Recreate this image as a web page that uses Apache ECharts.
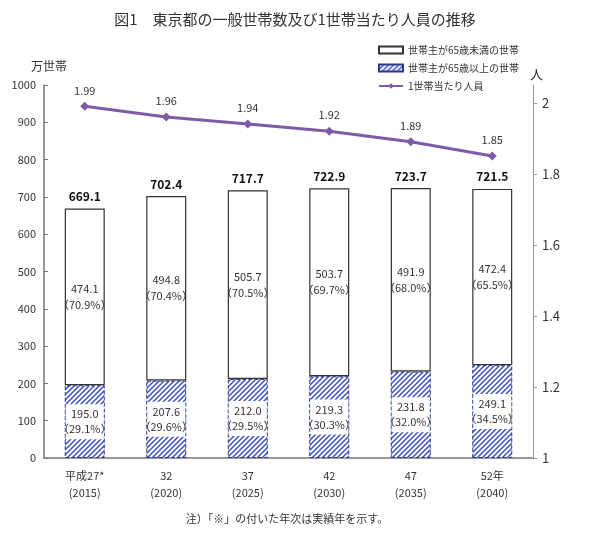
<!DOCTYPE html>
<html><head><meta charset="utf-8">
<script src="https://cdn.jsdelivr.net/npm/echarts@6/dist/echarts.min.js"></script>
<style>html,body{margin:0;padding:0;background:#fff}#c{width:600px;height:542px}</style>
</head><body><div id="c"></div>
<script>
const categories = ['平成27*\n(2015)', '32\n(2020)', '37\n(2025)', '42\n(2030)', '47\n(2035)', '52年\n(2040)'];
const under65 = [474.1, 494.8, 505.7, 503.7, 491.9, 472.4];
const under65Pct = ['70.9%', '70.4%', '70.5%', '69.7%', '68.0%', '65.5%'];
const over65 = [195.0, 207.6, 212.0, 219.3, 231.8, 249.1];
const over65Pct = ['29.1%', '29.6%', '29.5%', '30.3%', '32.0%', '34.5%'];
const totals = [669.1, 702.4, 717.7, 722.9, 723.7, 721.5];
const persons = [1.99, 1.96, 1.94, 1.92, 1.89, 1.85];
const rightTicks = [1, 1.2, 1.4, 1.6, 1.8, 2];

const FONT = '"Noto Sans CJK JP", "Noto Sans", sans-serif';

function hatch() {
  const s = 5, c = document.createElement('canvas');
  c.width = s; c.height = s;
  const g = c.getContext('2d');
  g.fillStyle = '#fff'; g.fillRect(0, 0, s, s);
  g.strokeStyle = '#3a4fc4'; g.lineWidth = 1.5;
  g.beginPath();
  g.moveTo(0, s); g.lineTo(s, 0);
  g.moveTo(-1, 1); g.lineTo(1, -1);
  g.moveTo(s - 1, s + 1); g.lineTo(s + 1, s - 1);
  g.stroke();
  return c;
}

const chart = echarts.init(document.getElementById('c'), null, { renderer: 'canvas' });
chart.setOption({
  animation: false,
  textStyle: { fontFamily: FONT },
  title: {
    text: '図1　東京都の一般世帯数及び1世帯当たり人員の推移',
    left: 290, textAlign: 'center', top: 7,
    textStyle: { fontSize: 15, fontWeight: 'normal', color: '#333', fontFamily: FONT }
  },
  legend: {
    orient: 'vertical', left: 373, top: 40, itemGap: 8,
    itemWidth: 24, itemHeight: 7,
    textStyle: { fontSize: 10, color: '#333', fontFamily: FONT },
    data: [
      { name: '世帯主が65歳未満の世帯', icon: 'rect' },
      { name: '世帯主が65歳以上の世帯', icon: 'rect' },
      { name: '1世帯当たり人員' }
    ]
  },
  graphic: [
    { type: 'text', x: 31, y: 60, style: { text: '万世帯', fill: '#333', font: '12px ' + FONT } },
    { type: 'text', x: 530, y: 68, style: { text: '人', fill: '#333', font: '13px ' + FONT } },
    { type: 'text', x: 287, y: 513, style: { text: '注）「※」の付いた年次は実績年を示す。', fill: '#333', font: '11px ' + FONT, textAlign: 'center' } }
  ],
  grid: { left: 44, right: 67, top: 85, bottom: 84 },
  xAxis: {
    type: 'category', data: categories,
    axisLine: { lineStyle: { color: '#777', width: 1.5 } },
    axisTick: { inside: true, length: 4, lineStyle: { color: '#777' } },
    axisLabel: { fontSize: 11, color: '#333', lineHeight: 17, margin: 9, fontFamily: FONT }
  },
  yAxis: [
    {
      type: 'value', min: 0, max: 1000, interval: 100,
      axisLine: { show: true, lineStyle: { color: '#777', width: 1.5 } },
      axisTick: { show: true, inside: true, length: 4, lineStyle: { color: '#777' } },
      axisLabel: { fontSize: 11, color: '#333', margin: 8, fontFamily: FONT, formatter: v => String(v) },
      splitLine: { show: false }
    },
    {
      type: 'value', min: 1, max: 2.05, position: 'right',
      axisLine: { show: true, lineStyle: { color: '#999', width: 1 } },
      axisTick: { show: true, length: 4, customValues: rightTicks, lineStyle: { color: '#999' } },
      axisLabel: { fontSize: 13, color: '#333', margin: 9, customValues: rightTicks,
        formatter: v => String(Math.round(v * 10) / 10), fontFamily: FONT },
      splitLine: { show: false }
    }
  ],
  series: [
    {
      name: '世帯主が65歳以上の世帯', type: 'bar', stack: 'h', barWidth: 40,
      data: over65,
      itemStyle: { color: { image: hatch(), repeat: 'repeat' }, borderColor: '#2c3a8c', borderWidth: 1, borderType: 'dashed' },
      label: {
        show: true, position: 'inside', color: '#333', fontSize: 11, lineHeight: 15,
        backgroundColor: '#fff', width: 38, align: 'center', padding: [3, 0, 2, 0],
        formatter: p => over65[p.dataIndex].toFixed(1) + '\n（' + over65Pct[p.dataIndex] + '）'
      }
    },
    {
      name: '世帯主が65歳未満の世帯', type: 'bar', stack: 'h', barWidth: 40,
      data: under65,
      itemStyle: { color: '#fff', borderColor: '#333', borderWidth: 1.2 },
      label: {
        show: true, position: 'inside', color: '#333', fontSize: 11, lineHeight: 16,
        formatter: p => under65[p.dataIndex].toFixed(1) + '\n（' + under65Pct[p.dataIndex] + '）'
      }
    },
    {
      name: 'total', type: 'bar', barWidth: 40, barGap: '-100%', data: totals,
      itemStyle: { color: 'rgba(0,0,0,0)' }, silent: true,
      label: { show: true, position: 'top', distance: 6, color: '#111', fontSize: 12, fontWeight: 'bold',
        formatter: p => totals[p.dataIndex].toFixed(1) }
    },
    {
      name: '1世帯当たり人員', type: 'line', yAxisIndex: 1, data: persons,
      lineStyle: { color: '#7d5ba6', width: 3 },
      itemStyle: { color: '#7d5ba6' },
      symbol: 'diamond', symbolSize: 9,
      label: { show: true, position: 'top', distance: 6, color: '#333', fontSize: 11,
        formatter: p => persons[p.dataIndex].toFixed(2) },
      z: 5
    }
  ]
});
</script></body></html>
